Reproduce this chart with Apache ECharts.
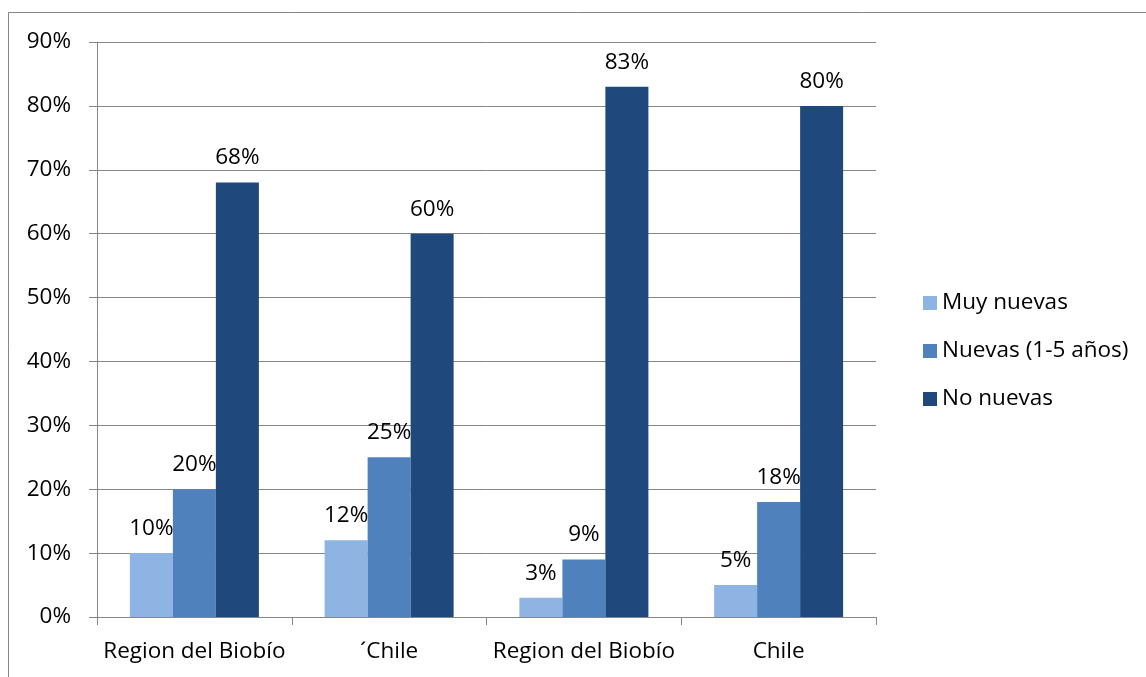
<!DOCTYPE html>
<html>
<head>
<meta charset="utf-8">
<script src="https://cdn.jsdelivr.net/npm/echarts@6/dist/echarts.min.js"></script>
<style>
  html, body { margin: 0; padding: 0; background: #ffffff; }
  #chart { width: 1146px; height: 677px; }
</style>
</head>
<body>
<div id="chart"></div>
<script>
// Company age shares by area
const categories = ['Region del Biobío', '´Chile', 'Region del Biobío', 'Chile'];
const muyNuevas = [10, 12, 3, 5];
const nuevas = [20, 25, 9, 18];
const noNuevas = [68, 60, 83, 80];
const seriesNames = ['Muy nuevas', 'Nuevas (1-5 años)', 'No nuevas'];
const yTicks = { min: 0, max: 90, step: 10 };

const FONT = '"Open Sans", sans-serif';
const GRAY = '#868686';
const colors = ['#8EB4E3', '#4F81BD', '#1F497D'];

const chart = echarts.init(document.getElementById('chart'), null, { renderer: 'canvas' });

function barSeries(name, data, color) {
  return {
    name: name,
    type: 'bar',
    data: data,
    barWidth: 43,
    barGap: '0%',
    itemStyle: { color: color },
    label: {
      show: true,
      position: 'top',
      distance: 13,
      formatter: '{c}%',
      color: '#000',
      fontFamily: FONT,
      fontSize: 22.5
    }
  };
}

chart.setOption({
  animation: false,
  backgroundColor: '#ffffff',
  textStyle: { fontFamily: FONT },
  graphic: [{
    type: 'rect',
    shape: { x: 8.5, y: 12.5, width: 1200, height: 700 },
    style: { fill: 'none', stroke: GRAY, lineWidth: 1 },
    silent: true,
    z: -1
  }],
  grid: { left: 97, right: 270, top: 42, bottom: 60, containLabel: false },
  legend: {
    orient: 'vertical',
    left: 918,
    top: 284,
    itemWidth: 14,
    itemHeight: 14,
    itemGap: 20,
    icon: 'rect',
    textStyle: { fontFamily: FONT, fontSize: 22.5, color: '#000', lineHeight: 28, padding: [0, 0, 0, 0] },
    data: seriesNames
  },
  xAxis: {
    type: 'category',
    data: categories,
    axisLine: { lineStyle: { color: GRAY, width: 1 } },
    axisTick: { show: true, length: 8, lineStyle: { color: GRAY } },
    axisLabel: { interval: 0, color: '#000', fontFamily: FONT, fontSize: 22.5, margin: 23 },
    splitLine: { show: false }
  },
  yAxis: {
    type: 'value',
    min: yTicks.min,
    max: yTicks.max,
    interval: yTicks.step,
    axisLine: { show: true, lineStyle: { color: GRAY, width: 1 } },
    axisTick: { show: true, length: 8, lineStyle: { color: GRAY } },
    axisLabel: { color: '#000', fontFamily: FONT, fontSize: 22.5, margin: 26, formatter: '{value}%' },
    splitLine: { show: true, lineStyle: { color: GRAY, width: 1 } }
  },
  series: [
    barSeries(seriesNames[0], muyNuevas, colors[0]),
    barSeries(seriesNames[1], nuevas, colors[1]),
    barSeries(seriesNames[2], noNuevas, colors[2])
  ]
});
</script>
</body>
</html>
